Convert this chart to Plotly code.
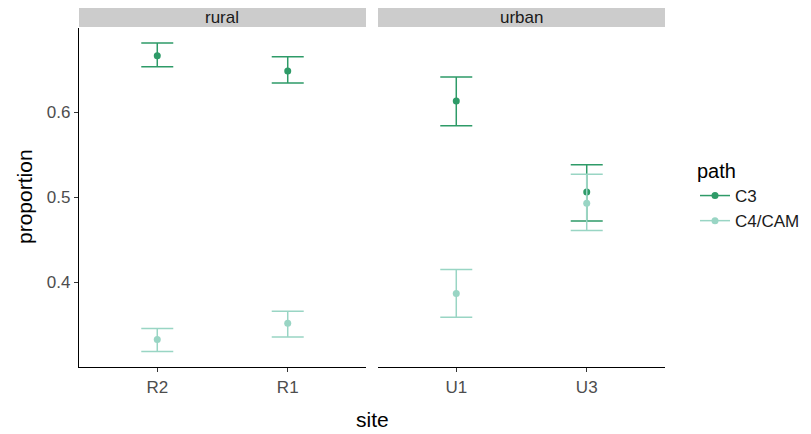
import plotly.graph_objects as go

# Data
rural_sites = ["R2", "R1"]
urban_sites = ["U1", "U3"]
c3_rural = [0.666, 0.648]
c3_rural_hi = [0.681, 0.665]
c3_rural_lo = [0.653, 0.634]
c4_rural = [0.333, 0.352]
c4_rural_hi = [0.346, 0.366]
c4_rural_lo = [0.319, 0.336]
c3_urban = [0.613, 0.506]
c3_urban_hi = [0.641, 0.538]
c3_urban_lo = [0.584, 0.472]
c4_urban = [0.387, 0.493]
c4_urban_hi = [0.415, 0.527]
c4_urban_lo = [0.359, 0.461]
y_ticks = [0.4, 0.5, 0.6]
y_tick_labels = ["0.4", "0.5", "0.6"]

C3_COL = "#2e9b68"
C4_COL = "#99d5c4"
FONT = "Liberation Sans, Arial, sans-serif"

fig = go.Figure()


def add(sites, vals, hi, lo, col, name, xa, ya):
    fig.add_trace(go.Scatter(
        x=sites, y=vals, mode="markers", name=name, legendgroup=name,
        showlegend=False, xaxis=xa, yaxis=ya,
        marker=dict(color=col, size=7),
        error_y=dict(type="data", symmetric=False,
                     array=[h - v for h, v in zip(hi, vals)],
                     arrayminus=[v - l for v, l in zip(vals, lo)],
                     color=col, thickness=1.5, width=16),
    ))


add(rural_sites, c3_rural, c3_rural_hi, c3_rural_lo, C3_COL, "C3", "x", "y")
add(rural_sites, c4_rural, c4_rural_hi, c4_rural_lo, C4_COL, "C4/CAM", "x", "y")
add(urban_sites, c3_urban, c3_urban_hi, c3_urban_lo, C3_COL, "C3", "x2", "y2")
add(urban_sites, c4_urban, c4_urban_hi, c4_urban_lo, C4_COL, "C4/CAM", "x2", "y2")

# legend entries (line + marker like ggplot key)
for name, col in [("C3", C3_COL), ("C4/CAM", C4_COL)]:
    fig.add_trace(go.Scatter(x=[None], y=[None], mode="lines+markers", name=name,
                             marker=dict(color=col, size=7), line=dict(color=col, width=1.5),
                             xaxis="x", yaxis="y"))

W, H = 811, 434
x1d = [79 / W, 366 / W]
x2d = [378 / W, 665 / W]
yd = [(H - 367) / H, (H - 28) / H]
yr = [0.3007, 0.6986]

tickfont = dict(family=FONT, size=17, color="#4d4d4d")
common_x = dict(showgrid=False, showline=True, linecolor="black", linewidth=1.2,
                ticks="outside", ticklen=4, tickcolor="#333333", tickfont=tickfont,
                range=[-0.6, 1.6], zeroline=False, fixedrange=True)

fig.update_layout(
    width=W, height=H,
    margin=dict(l=0, r=0, t=0, b=0),
    paper_bgcolor="white", plot_bgcolor="white",
    font=dict(family=FONT, color="black"),
    xaxis=dict(domain=x1d, anchor="y", **common_x),
    xaxis2=dict(domain=x2d, anchor="y2", **common_x),
    yaxis=dict(domain=yd, range=yr, tickvals=y_ticks, ticktext=y_tick_labels,
               showgrid=False, showline=True, linecolor="black", linewidth=1.2,
               ticks="outside", ticklen=4, tickcolor="#333333", tickfont=tickfont,
               zeroline=False, anchor="x"),
    yaxis2=dict(domain=yd, range=yr, showgrid=False, showline=False, showticklabels=False,
                ticks="", zeroline=False, anchor="x2"),
    showlegend=True,
    legend=dict(x=695 / W, y=(H - 152) / H, xanchor="left", yanchor="top",
                title=dict(text="path", font=dict(size=20, color="black")),
                font=dict(size=17, color="#1a1a1a"), bgcolor="rgba(0,0,0,0)",
                tracegroupgap=0, itemwidth=30),
    shapes=[
        dict(type="rect", xref="paper", yref="paper", x0=x1d[0], x1=x1d[1],
             y0=(H - 27) / H, y1=(H - 8) / H, fillcolor="#cccccc", line=dict(width=0), layer="below"),
        dict(type="rect", xref="paper", yref="paper", x0=x2d[0], x1=x2d[1],
             y0=(H - 27) / H, y1=(H - 8) / H, fillcolor="#cccccc", line=dict(width=0), layer="below"),
    ],
    annotations=[
        dict(text="rural", xref="paper", yref="paper", x=(x1d[0] + x1d[1]) / 2, y=(H - 17.5) / H,
             showarrow=False, font=dict(size=17, color="#1a1a1a"), xanchor="center", yanchor="middle"),
        dict(text="urban", xref="paper", yref="paper", x=(x2d[0] + x2d[1]) / 2, y=(H - 17.5) / H,
             showarrow=False, font=dict(size=17, color="#1a1a1a"), xanchor="center", yanchor="middle"),
        dict(text="site", xref="paper", yref="paper", x=372 / W, y=(H - 419) / H,
             showarrow=False, font=dict(size=21, color="black"), xanchor="center", yanchor="middle"),
        dict(text="proportion", xref="paper", yref="paper", x=24 / W, y=(H - 197) / H,
             showarrow=False, font=dict(size=21, color="black"), textangle=-90,
             xanchor="center", yanchor="middle"),
    ],
)

fig.write_html("out.html", config={"displayModeBar": False},
               post_script="document.body.style.margin='0';document.body.style.overflow='hidden';")
